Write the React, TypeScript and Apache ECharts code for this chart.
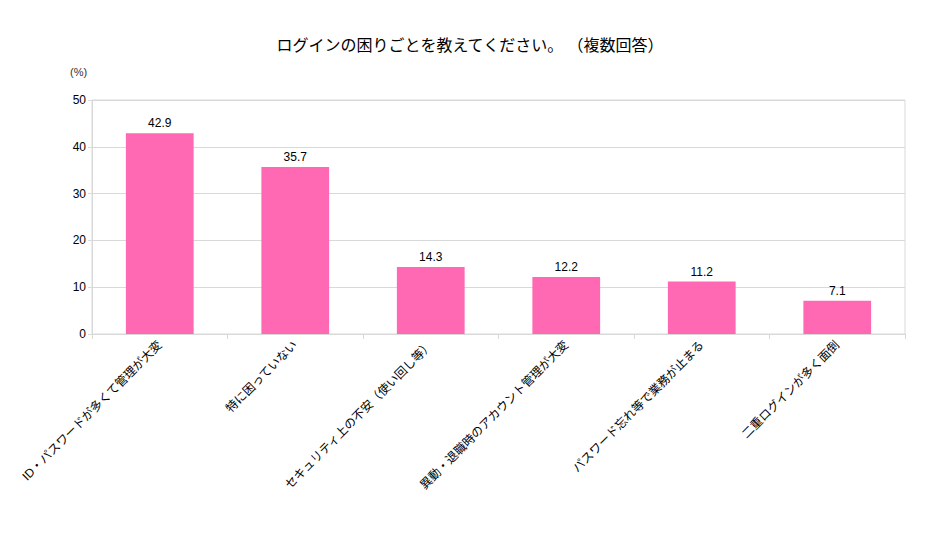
import React, { useEffect, useRef } from "react";
import * as echarts from "echarts";

const categories = [
  "ID・パスワードが多くて管理が大変",
  "特に困っていない",
  "セキュリティ上の不安（使い回し等）",
  "異動・退職時のアカウント管理が大変",
  "パスワード忘れ等で業務が止まる",
  "二重ログインが多く面倒",
];
const values = [42.9, 35.7, 14.3, 12.2, 11.2, 7.1];
const yTicks = [0, 10, 20, 30, 40, 50];

const FONT = "'Liberation Sans', 'Noto Sans CJK JP', sans-serif";

const App = () => {
  const chartRef = useRef<HTMLDivElement>(null);

  useEffect(() => {
    if (!chartRef.current) return;
    const chart = echarts.init(chartRef.current, undefined, { renderer: "svg" });

    const option: echarts.EChartsOption = {
      animation: false,
      backgroundColor: "#ffffff",
      textStyle: { fontFamily: FONT },
      title: {
        text: "ログインの困りごとを教えてください。 （複数回答）",
        left: "center",
        top: 24,
        textStyle: { fontSize: 16, fontWeight: "normal", color: "#000", fontFamily: FONT },
      },
      graphic: [
        {
          type: "text",
          left: 62,
          top: 58,
          style: { text: "(%)", fontSize: 11, fill: "#333", fontFamily: FONT },
        },
      ],
      grid: {
        left: 84,
        right: 27,
        top: 92,
        bottom: 193,
        containLabel: false,
        show: true,
        borderColor: "#d9d9d9",
        borderWidth: 1,
      },
      xAxis: {
        type: "category",
        data: categories,
        axisLine: { lineStyle: { color: "#d9d9d9" } },
        axisTick: { show: true, length: 5, lineStyle: { color: "#d9d9d9" } },
        axisLabel: {
          interval: 0,
          rotate: 45,
          fontSize: 12,
          color: "#000",
          margin: 9,
          fontFamily: FONT,
        },
      },
      yAxis: {
        type: "value",
        min: 0,
        max: yTicks[yTicks.length - 1],
        interval: 10,
        axisLine: { show: true, lineStyle: { color: "#d9d9d9" } },
        axisTick: { show: true, length: 4, lineStyle: { color: "#d9d9d9" } },
        axisLabel: { fontSize: 12, color: "#000", margin: 6, fontFamily: FONT },
        splitLine: { lineStyle: { color: "#d9d9d9" } },
      },
      series: [
        {
          type: "bar",
          data: values,
          barWidth: "50%",
          itemStyle: { color: "#ff69b4" },
          label: {
            show: true,
            position: "top",
            distance: 4,
            fontSize: 12,
            color: "#000",
            fontFamily: FONT,
            formatter: (p: any) => Number(p.value).toFixed(1),
          },
        },
      ],
    };

    chart.setOption(option);
    return () => chart.dispose();
  }, []);

  return <div ref={chartRef} style={{ width: 924, height: 519 }} />;
};

export default App;
